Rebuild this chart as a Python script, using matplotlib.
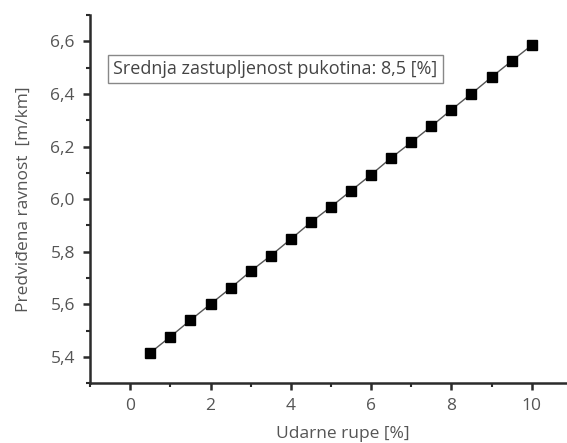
import matplotlib
matplotlib.use("Agg")
import matplotlib.pyplot as plt
from matplotlib.ticker import MultipleLocator, FuncFormatter

plt.rcParams['font.family'] = ['Open Sans', 'DejaVu Sans']

udarne_rupe = [0.5, 1.0, 1.5, 2.0, 2.5, 3.0, 3.5, 4.0, 4.5, 5.0,
               5.5, 6.0, 6.5, 7.0, 7.5, 8.0, 8.5, 9.0, 9.5, 10.0]
ravnost = [5.416, 5.477, 5.540, 5.601, 5.662, 5.726, 5.785, 5.848, 5.912, 5.971,
           6.032, 6.093, 6.157, 6.216, 6.277, 6.340, 6.401, 6.464, 6.525, 6.585]
annotation = "Srednja zastupljenost pukotina: 8,5 [%]"

text_col = "#555555"
axis_col = "#2b2b2b"

fig = plt.figure(figsize=(5.67, 4.43), dpi=100)
ax = fig.add_axes([0.159, 0.135, 0.841, 0.831])

ax.plot(udarne_rupe, ravnost, color="#555555", linewidth=1.0,
        marker="s", markersize=7.6, markerfacecolor="black", markeredgecolor="black")

ax.set_xlim(-1, 10.88)
ax.set_ylim(5.3, 6.7)
ax.xaxis.set_major_locator(MultipleLocator(2))
ax.xaxis.set_minor_locator(MultipleLocator(1))
ax.yaxis.set_major_locator(MultipleLocator(0.2))
ax.yaxis.set_minor_locator(MultipleLocator(0.1))

comma = FuncFormatter(lambda v, p: f"{v:.1f}".replace(".", ","))
ax.yaxis.set_major_formatter(comma)

for s in ["top", "right"]:
    ax.spines[s].set_visible(False)
for s in ["left", "bottom"]:
    ax.spines[s].set_color(axis_col)
    ax.spines[s].set_linewidth(1.8)

ax.tick_params(which="major", direction="out", length=5, width=1.8, color=axis_col,
               labelcolor=text_col, labelsize=12.5, pad=6)
ax.tick_params(which="minor", direction="out", length=3, width=1.5, color=axis_col)

ax.set_xlabel("Udarne rupe [%]", color=text_col, fontsize=12.5, labelpad=8, x=0.53)
ax.set_ylabel("Predviđena ravnost  [m/km]", color=text_col, fontsize=12.5, labelpad=13)

ax.text(-0.42, 6.495, annotation, fontsize=13, color="#444444", va="center", ha="left",
        bbox=dict(boxstyle="square,pad=0.3", facecolor="white", edgecolor="#888888", linewidth=1.0))

fig.savefig("out.png", dpi=100)
